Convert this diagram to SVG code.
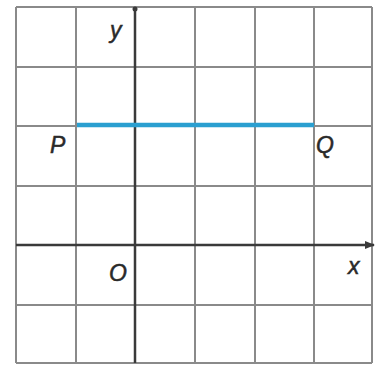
<svg xmlns="http://www.w3.org/2000/svg" width="381" height="365" viewBox="0 0 381 365">
<style>
.grid{stroke:#8a8a8a;stroke-width:2;fill:none}
.axis{stroke:#3a3a3a;stroke-width:2.5;fill:none}
.seg{stroke:#2a9fd0;stroke-width:4.5;fill:none}
.lbl{font-family:"Liberation Sans",Arial,sans-serif;font-style:italic;font-size:23px;fill:#2a2a2a;stroke:#2a2a2a;stroke-width:0.5}
</style>
<defs>
<marker id="arr" viewBox="0 0 10 10" refX="9" refY="5" markerWidth="4" markerHeight="4" orient="auto"><path d="M0,1 L10,5 L0,9 z" fill="#3a3a3a"/></marker>
</defs>
<rect width="381" height="365" fill="#fff"/>
<g id="grid" class="grid">
<path d="M16,7V363 M76,7V363 M195,7V363 M255,7V363 M314,7V363 M372,7V363"/>
<path d="M16,7H372 M16,67H372 M16,126H372 M16,186H372 M16,305H372 M16,363H372"/>
</g>
<g id="connectors">
<line id="x-axis" class="axis" x1="16" y1="245" x2="374" y2="245" marker-end="url(#arr)"/>
<line id="y-axis" class="axis" x1="135" y1="363" x2="135" y2="8"/>
<circle cx="135" cy="9" r="2.5" fill="#3a3a3a"/>
<line id="PQ" class="seg" x1="77" y1="125" x2="314" y2="125"/>
</g>
<g id="labels">
<text class="lbl" x="110" y="38">y</text>
<text class="lbl" x="50" y="153">P</text>
<text class="lbl" x="316" y="153">Q</text>
<text class="lbl" x="109" y="281">O</text>
<text class="lbl" x="348" y="274">x</text>
</g>
</svg>
